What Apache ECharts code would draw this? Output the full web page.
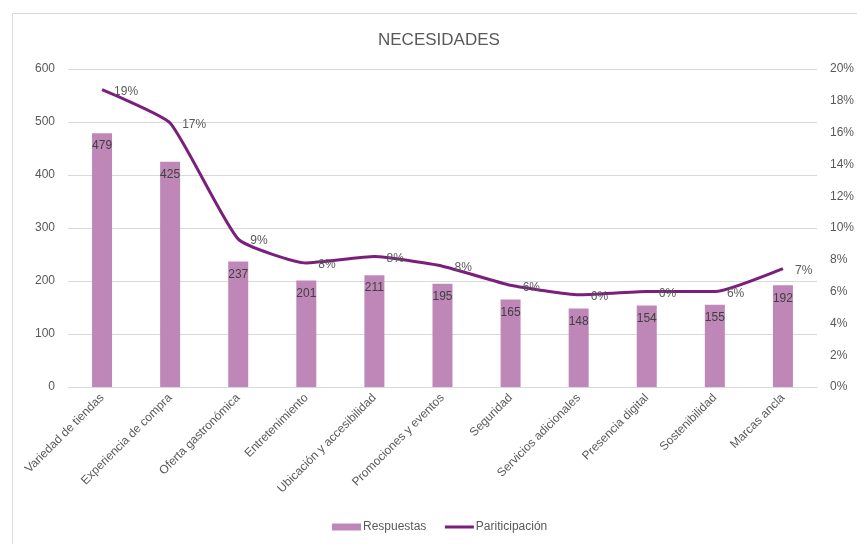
<!DOCTYPE html>
<html>
<head>
<meta charset="utf-8">
<script src="https://cdn.jsdelivr.net/npm/echarts@6/dist/echarts.min.js"></script>
<style>
  html, body { margin: 0; padding: 0; background: #fff; }
  #main { width: 857px; height: 544px; }
</style>
</head>
<body>
<div id="main"></div>
<script>
// datos
const categorias = ['Variedad de tiendas', 'Experiencia de compra', 'Oferta gastronómica', 'Entretenimiento',
  'Ubicación y accesibilidad', 'Promociones y eventos', 'Seguridad', 'Servicios adicionales',
  'Presencia digital', 'Sostenibilidad', 'Marcas ancla'];
const respuestas = [479, 425, 237, 201, 211, 195, 165, 148, 154, 155, 192];
const participacion = [18.7, 16.6, 9.3, 7.8, 8.2, 7.6, 6.4, 5.8, 6.0, 6.0, 7.45];

const chart = echarts.init(document.getElementById('main'));
const gris = '#595959';
const morado = '#7a1f7c';

chart.setOption({
  animation: false,
  textStyle: { fontFamily: 'Liberation Sans, Arial, sans-serif' },
  graphic: [{
    type: 'rect',
    shape: { x: 12.5, y: 13.5, width: 900, height: 600 },
    style: { fill: 'none', stroke: '#d9d9d9', lineWidth: 1 }
  }],
  title: {
    text: 'NECESIDADES',
    left: 373,
    top: 27,
    textStyle: { fontSize: 17, fontWeight: 'normal', color: gris }
  },
  legend: {
    bottom: 6,
    left: 327,
    itemGap: 17,
    itemWidth: 29,
    itemHeight: 7,
    textStyle: { fontSize: 12, color: gris, padding: [0, 0, 0, -3] },
    data: [
      { name: 'Respuestas', icon: 'rect' },
      { name: 'Pariticipación', itemStyle: { opacity: 0 }, lineStyle: { width: 3 } }
    ]
  },
  grid: { left: 68, right: 37, top: 69, bottom: 157 },
  xAxis: {
    type: 'category',
    data: categorias,
    axisTick: { show: false },
    axisLine: { lineStyle: { color: '#d9d9d9' } },
    axisLabel: { rotate: 45, color: gris, fontSize: 12, interval: 0, margin: 9 }
  },
  yAxis: [{
    type: 'value',
    min: 0, max: 600, interval: 100,
    axisLabel: { color: gris, fontSize: 12, margin: 13 },
    splitLine: { lineStyle: { color: '#d9d9d9' } },
    axisLine: { show: false },
    axisTick: { show: false }
  }, {
    type: 'value',
    min: 0, max: 20, interval: 2,
    axisLabel: { color: gris, fontSize: 12, formatter: '{value}%', margin: 13 },
    splitLine: { show: false },
    axisLine: { show: false },
    axisTick: { show: false }
  }],
  series: [{
    name: 'Respuestas',
    type: 'bar',
    data: respuestas,
    barWidth: 20,
    itemStyle: { color: '#bf86b8' },
    label: {
      show: true,
      position: 'insideTop',
      distance: 7,
      color: '#404040',
      fontSize: 12
    }
  }, {
    name: 'Pariticipación',
    type: 'line',
    yAxisIndex: 1,
    data: participacion,
    smooth: 0.15,
    symbol: 'circle',
    symbolSize: 0.1,
    showSymbol: true,
    lineStyle: { color: morado, width: 3 },
    itemStyle: { color: morado },
    label: {
      show: true,
      position: 'right',
      distance: 12,
      offset: [0, 2],
      color: gris,
      fontSize: 12,
      formatter: p => Math.round(p.value) + '%'
    }
  }]
});
</script>
</body>
</html>
